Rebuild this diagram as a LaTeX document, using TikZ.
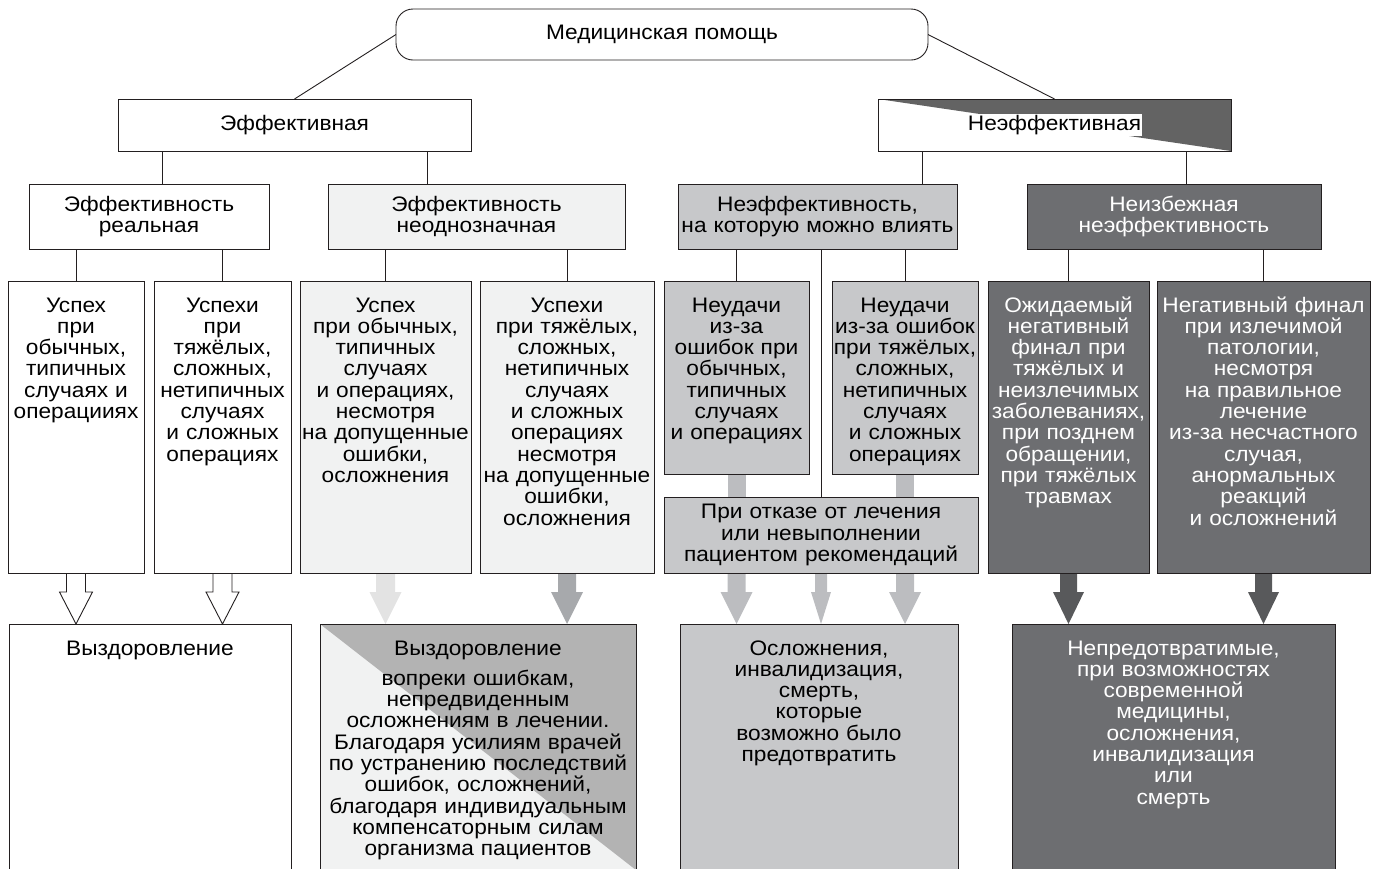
\documentclass[tikz,border=0pt]{standalone}
\usepackage{fontspec}
\setmainfont{Liberation Sans}[FakeStretch=1.08]
\usetikzlibrary{calc,backgrounds}
\definecolor{rand}{HTML}{231F20}
\definecolor{hell}{HTML}{F1F2F2}
\definecolor{mittel}{HTML}{C7C8CA}
\definecolor{dunkel}{HTML}{6D6E71}
\definecolor{schwarzgrau}{HTML}{636363}
\definecolor{dreieck}{HTML}{B3B3B3}
\definecolor{pfeilH}{HTML}{E3E3E3}
\definecolor{pfeilA}{HTML}{A7A9AC}
\definecolor{pfeilM}{HTML}{BCBDC0}
\definecolor{pfeilD}{HTML}{58595B}
\newcommand{\schrift}{\fontsize{21}{21.3}\selectfont}
\newcommand{\titelschrift}{\fontsize{21}{24}\selectfont}
\tikzset{
  kasten/.style={draw=rand,line width=0.9pt,inner sep=0pt,outer sep=0pt,align=center,anchor=north west,font=\schrift},
  topbox/.style={text height=31pt,text depth=#1},
  linie/.style={rand,line width=0.9pt},
  offen/.style={draw=rand,fill=white,line width=0.9pt,line join=miter},
}
% Blockpfeil: Stil, von, bis, halbe Schaftbreite, halbe Spitzenbreite
\newcommand{\blockpfeil}[5]{%
  \path[#1] let \p1=(#2), \p2=(#3) in
    (\x2-#4,\y1) -- (\x2-#4,\y2+32pt) -- (\x2-#5,\y2+32pt) -- (\x2,\y2)
    -- (\x2+#5,\y2+32pt) -- (\x2+#4,\y2+32pt) -- (\x2+#4,\y1);
}

\begin{document}
\begin{tikzpicture}[x=1pt,y=-1pt]
  \path[use as bounding box] (0,0) rectangle (1375,868);
  \clip (0,0) rectangle (1375,868);
  % Ebene 0
  \node[kasten,rounded corners=17pt,minimum width=532pt,minimum height=51pt,font=\titelschrift] (mp) at (396,9) {Медицинская помощь};
  % Ebene 1
  \node[kasten,minimum width=353pt,minimum height=52pt] (eff) at (118,99) {Эффективная};
  \node[kasten,minimum width=353pt,minimum height=52pt,fill=white,
    path picture={\fill[schwarzgrau] (path picture bounding box.north west) -- (path picture bounding box.north east) -- (path picture bounding box.south east) -- cycle;}]
    (neff) at (878,99) {\setlength{\fboxsep}{1pt}\colorbox{white}{Неэффективная}};
  % Ebene 2
  \node[kasten,text width=240pt,minimum height=65pt] (real) at (29,184) {Эффективность\\реальная};
  \node[kasten,text width=297pt,minimum height=65pt,fill=hell] (unkl) at (328,184) {Эффективность\\неоднозначная};
  \node[kasten,text width=279pt,minimum height=65pt,fill=mittel] (beein) at (678,184) {Неэффективность,\\на которую можно влиять};
  \node[kasten,text width=294pt,minimum height=65pt,fill=dunkel,text=white] (unvm) at (1027,184) {Неизбежная\\неэффективность};
  % Ebene 3
  \node[kasten,topbox=261pt,text width=136pt] (u1) at (8,281) {Успех\\при\\обычных,\\типичных\\случаях и\\операцииях};
  \node[kasten,topbox=261pt,text width=137pt] (u2) at (154,281) {Успехи\\при\\тяжёлых,\\сложных,\\нетипичных\\случаях\\и сложных\\операциях};
  \node[kasten,topbox=261pt,text width=171pt,fill=hell] (u3) at (300,281) {Успех\\при обычных,\\типичных\\случаях\\и операциях,\\несмотря\\на допущенные\\ошибки,\\осложнения};
  \node[kasten,topbox=261pt,text width=174pt,fill=hell] (u4) at (480,281) {Успехи\\при тяжёлых,\\сложных,\\нетипичных\\случаях\\и сложных\\операциях\\несмотря\\на допущенные\\ошибки,\\осложнения};
  \node[kasten,topbox=162pt,text width=145pt,fill=mittel] (n1) at (664,281) {Неудачи\\из-за\\ошибок при\\обычных,\\типичных\\случаях\\и операциях};
  \node[kasten,topbox=162pt,text width=146pt,fill=mittel] (n2) at (832,281) {Неудачи\\из-за ошибок\\при тяжёлых,\\сложных,\\нетипичных\\случаях\\и сложных\\операциях};
  \node[kasten,text width=314pt,minimum height=76pt,fill=mittel] (abl) at (664,497) {При отказе от лечения\\или невыполнении\\пациентом рекомендаций};
  \node[kasten,topbox=261pt,text width=161pt,fill=dunkel,text=white] (e1) at (988,281) {Ожидаемый\\негативный\\финал при\\тяжёлых и\\неизлечимых\\заболеваниях,\\при позднем\\обращении,\\при тяжёлых\\травмах};
  \node[kasten,topbox=261pt,text width=213pt,fill=dunkel,text=white] (e2) at (1157,281) {Негативный финал\\при излечимой\\патологии,\\несмотря\\на правильное\\лечение\\из-за несчастного\\случая,\\анормальных\\реакций\\и осложнений};
  % Ebene 4
  \node[kasten,topbox=215pt,text width=282pt] (v1) at (9,624) {Выздоровление};
  \node[kasten,topbox=215pt,text width=316pt,fill=hell,
    path picture={\fill[dreieck] (path picture bounding box.north west) -- (path picture bounding box.north east) -- (path picture bounding box.south east) -- cycle;}]
    (v2) at (320,624) {Выздоровление\\[9pt]вопреки ошибкам,\\непредвиденным\\осложнениям в лечении.\\Благодаря усилиям врачей\\по устранению последствий\\ошибок, осложнений,\\благодаря индивидуальным\\компенсаторным силам\\организма пациентов};
  \node[kasten,topbox=215pt,text width=278pt,fill=mittel] (v3) at (680,624) {Осложнения,\\инвалидизация,\\смерть,\\которые\\возможно было\\предотвратить};
  \node[kasten,topbox=215pt,text width=323pt,fill=dunkel,text=white] (v4) at (1012,624) {Непредотвратимые,\\при возможностях\\современной\\медицины,\\осложнения,\\инвалидизация\\или\\смерть};
  % Verbindungen
  \draw[linie] (mp.west) -- (eff.north);
  \draw[linie] (mp.east) -- (neff.north);
  \draw[linie] (eff.south -| 162,0) -- (real.north -| 162,0);
  \draw[linie] (eff.south -| 427,0) -- (unkl.north -| 427,0);
  \draw[linie] (neff.south -| 922,0) -- (beein.north -| 922,0);
  \draw[linie] (neff.south -| 1186,0) -- (unvm.north -| 1186,0);
  \draw[linie] (real.south -| u1.north) -- (u1.north);
  \draw[linie] (real.south -| u2.north) -- (u2.north);
  \draw[linie] (unkl.south -| u3.north) -- (u3.north);
  \draw[linie] (unkl.south -| u4.north) -- (u4.north);
  \draw[linie] (beein.south -| n1.north) -- (n1.north);
  \draw[linie] (beein.south -| abl.north) -- (abl.north);
  \draw[linie] (beein.south -| n2.north) -- (n2.north);
  \draw[linie] (unvm.south -| e1.north) -- (e1.north);
  \draw[linie] (unvm.south -| e2.north) -- (e2.north);
  % Pfeile
  \begin{pgfonlayer}{background}
    \blockpfeil{offen}{u1.south}{u1.south |- v1.north}{9.5pt}{16.5pt}
    \blockpfeil{offen}{u2.south}{u2.south |- v1.north}{9.5pt}{16.5pt}
    \blockpfeil{fill=pfeilH}{u3.south}{u3.south |- v2.north}{9.5pt}{16pt}
    \blockpfeil{fill=pfeilA}{u4.south}{u4.south |- v2.north}{9pt}{16pt}
    \fill[pfeilM] ([xshift=-9pt]n1.south) rectangle ([xshift=9pt]n1.south |- abl.north);
    \fill[pfeilM] ([xshift=-9pt]n2.south) rectangle ([xshift=9pt]n2.south |- abl.north);
    \blockpfeil{fill=pfeilM}{abl.south -| n1.south}{n1.south |- v3.north}{9pt}{16pt}
    \blockpfeil{fill=pfeilM}{abl.south}{abl.south |- v3.north}{6pt}{10pt}
    \blockpfeil{fill=pfeilM}{abl.south -| n2.south}{n2.south |- v3.north}{9pt}{16pt}
    \blockpfeil{fill=pfeilD}{e1.south}{e1.south |- v4.north}{8.5pt}{15.5pt}
    \blockpfeil{fill=pfeilD}{e2.south}{e2.south |- v4.north}{8.5pt}{15.5pt}
  \end{pgfonlayer}
\end{tikzpicture}
\end{document}
